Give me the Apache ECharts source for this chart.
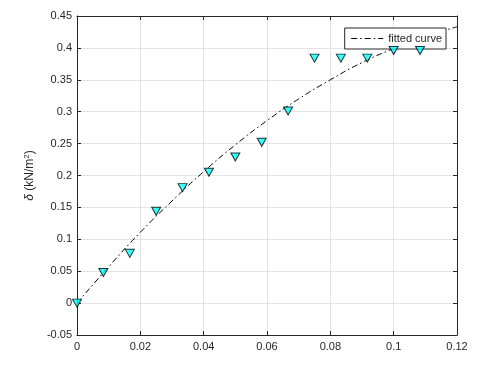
<!DOCTYPE html>
<html>
<head>
<meta charset="utf-8">
<script src="https://cdn.jsdelivr.net/npm/echarts@6/dist/echarts.min.js"></script>
<style>
  html, body { margin: 0; padding: 0; background: #fff; }
  #chart { width: 479px; height: 366px; }
</style>
</head>
<body>
<div id="chart"></div>
<script>
// measured points (triangles)
const strainX = [0, 0.00833, 0.01667, 0.025, 0.03333, 0.04167, 0.05, 0.05833, 0.06667, 0.075, 0.08333, 0.09167, 0.1, 0.10833];
const deltaY = [0, 0.048, 0.078, 0.144, 0.181, 0.205, 0.229, 0.252, 0.301, 0.384, 0.384, 0.384, 0.396, 0.396];

// fitted curve
const fitX = [0, 0.01, 0.02, 0.03, 0.04, 0.05, 0.06, 0.07, 0.08, 0.09, 0.1, 0.11, 0.12];
const fitY = [0, 0.057, 0.111, 0.160, 0.206, 0.248, 0.286, 0.320, 0.350, 0.377, 0.399, 0.418, 0.433];

const xTicks = ['0', '0.02', '0.04', '0.06', '0.08', '0.1', '0.12'];

const axisColor = "#262626";
const gridColor = "#e3e3e3";
const font = "Liberation Sans, Arial, sans-serif";

const chart = echarts.init(document.getElementById("chart"));

const baseX = {
  type: "value",
  min: 0,
  max: 0.12,
  interval: 0.02,
  axisLine: { show: true, onZero: false, lineStyle: { color: axisColor, width: 1 } },
  axisTick: { show: true, inside: true, length: 4, lineStyle: { color: axisColor } },
};
const baseY = {
  type: "value",
  min: -0.05,
  max: 0.45,
  interval: 0.05,
  axisLine: { show: true, onZero: false, lineStyle: { color: axisColor, width: 1 } },
  axisTick: { show: true, inside: true, length: 4, lineStyle: { color: axisColor } },
};

chart.setOption({
  animation: false,
  backgroundColor: "#fff",
  grid: { left: 77, right: 22, top: 16, bottom: 31 },
  legend: {
    data: ["fitted curve"],
    right: 33,
    top: 28,
    orient: "vertical",
    backgroundColor: "#fff",
    borderColor: axisColor,
    borderWidth: 1,
    borderRadius: 0,
    padding: [5, 4, 5, 6],
    itemWidth: 32,
    itemHeight: 10,
    itemGap: 4,
    itemStyle: { opacity: 0 },
    lineStyle: { width: 1 },
    textStyle: { fontFamily: font, fontSize: 11, color: axisColor }
  },
  xAxis: [
    Object.assign({}, baseX, {
      position: "bottom",
      splitLine: { show: true, lineStyle: { color: gridColor } },
      axisLabel: {
        color: axisColor, fontFamily: font, fontSize: 11, margin: 6,
        formatter: (v) => xTicks[Math.round(v / 0.02)]
      }
    }),
    Object.assign({}, baseX, {
      position: "top",
      splitLine: { show: false },
      axisLabel: { show: false }
    })
  ],
  yAxis: [
    Object.assign({}, baseY, {
      position: "left",
      name: "{d|δ} (kN/m{sup|2})",
      nameLocation: "middle",
      nameGap: 38,
      nameRotate: 90,
      nameTextStyle: {
        color: axisColor, fontFamily: font, fontSize: 12,
        rich: {
          d: { fontFamily: font, fontSize: 12, fontStyle: "italic", color: axisColor },
          sup: { fontFamily: font, fontSize: 8, verticalAlign: "top", color: axisColor, padding: [0, 0, 6, 0] }
        }
      },
      splitLine: { show: true, lineStyle: { color: gridColor } },
      axisLabel: {
        color: axisColor, fontFamily: font, fontSize: 11, margin: 5,
        formatter: (v) => String(parseFloat(v.toFixed(2)))
      }
    }),
    Object.assign({}, baseY, {
      position: "right",
      splitLine: { show: false },
      axisLabel: { show: false }
    })
  ],
  series: [
    {
      name: "fitted curve",
      type: "line",
      data: fitX.map((x, i) => [x, fitY[i]]),
      smooth: true,
      symbol: "none",
      lineStyle: { color: "#000", width: 1, type: [6, 3, 1.5, 3] },
      itemStyle: { color: "#000" },
      z: 3
    },
    {
      name: "data",
      type: "scatter",
      data: strainX.map((x, i) => [x, deltaY[i]]),
      symbol: "triangle",
      symbolRotate: 180,
      symbolSize: [9, 8],
      itemStyle: { color: "#00ffff", borderColor: "#000", borderWidth: 1 },
      z: 4
    }
  ]
});
</script>
</body>
</html>
